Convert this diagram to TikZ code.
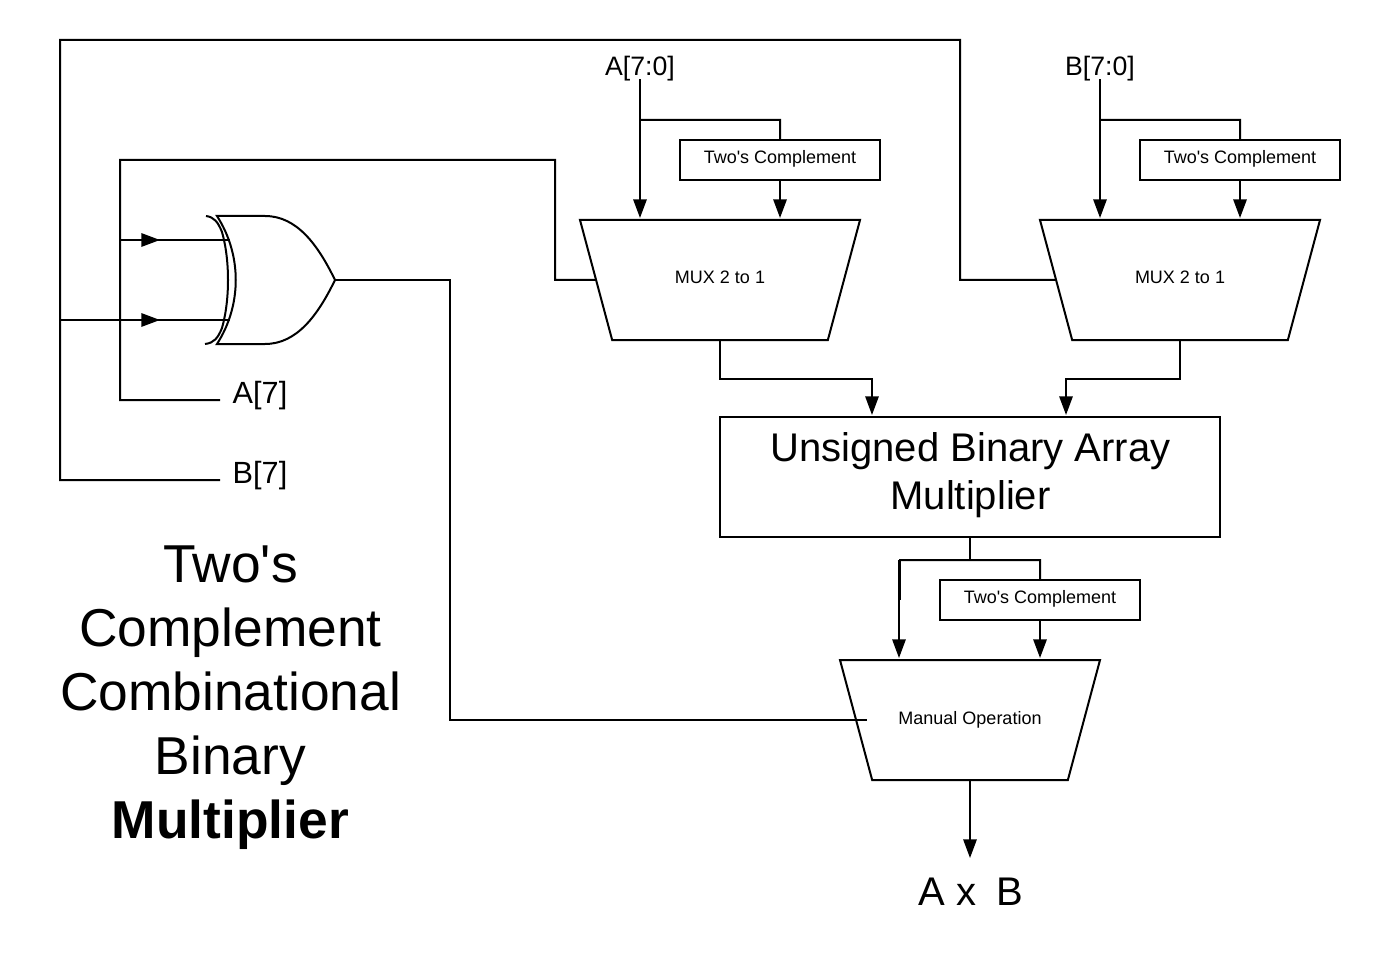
\documentclass[tikz,border=0pt]{standalone}
\usepackage{fontspec}
\setmainfont{Liberation Sans}
\usetikzlibrary{shapes.geometric}
\usetikzlibrary{arrows.meta}
\usetikzlibrary{positioning}
\newcommand{\twostext}{Two\textquotesingle s Complement}
\begin{document}
\begin{tikzpicture}[x=0.75pt,y=-0.75pt,line width=1.5pt]
\tikzstyle{mux node}=[trapezium,draw,trapezium stretches body=true,shape border rotate=180,trapezium left angle=75,trapezium right angle=75,minimum width=210pt,minimum height=90pt,inner xsep=0,outer sep=0,text height=9.5pt,text depth=4.5pt,inner ysep=38pt,font=\fontsize{13.5}{16}\selectfont]
\tikzstyle{twos node}=[rectangle,draw,minimum width=150pt,minimum height=30pt,inner sep=0,outer sep=0,text depth=4.3pt,font=\fontsize{13.5}{16}\selectfont]
\tikzstyle{pin node}=[inner sep=0,font=\fontsize{20}{24}\selectfont]
\tikzstyle{msb node}=[inner sep=0,font=\fontsize{23}{27}\selectfont]
\tikzset{
  arrow line/.style = {-{Triangle[length=14pt,width=10pt]},shorten >=1.5pt},
  gate line/.style = {line join=miter}
}
\useasboundingbox (0,0) rectangle (1380,980);

    \node[mux node]      (muxa)  at (720,280)   {MUX 2 to 1};
    \node[mux node]      (muxb)  [right of=muxa,node distance=345pt]  {MUX 2 to 1};
    \node[twos node]     (twoa)  [above=30pt of muxa,xshift=45pt]  {\twostext};
    \node[twos node]     (twob)  [above=30pt of muxb,xshift=45pt]  {\twostext};
    \node[pin node]      (ina)   at (640,69)    {A[7:0]};
    \node[pin node]      (inb)   at (1100,69)   {B[7:0]};
    \node[rectangle,draw,minimum width=375pt,minimum height=90pt,inner sep=0,outer sep=0,
      label={[align=center,xshift=0.4pt,yshift=1.5pt,font=\fontsize{30}{36}\selectfont]center:Unsigned Binary Array\\Multiplier}] (mult) at (970,477) {};
    \node[mux node,minimum width=195pt,text height=9.7pt,text depth=2.8pt,inner ysep=38.75pt] (muxc) [below of=mult,node distance=182.25pt] {Manual Operation};
    \node[twos node]     (twoc)  [above=30pt of muxc,xshift=52.5pt]  {\twostext};
    \node[msb node]      (msba)  at (260,396)   {A[7]};
    \node[msb node]      (msbb)  at (260,476)   {B[7]};
    \node[inner sep=0,font=\fontsize{30}{36}\selectfont] (prod) at (971,892) {A x\hspace*{6.5pt} B};
    \node[inner sep=0,align=center,font=\fontsize{40}{48}\selectfont] (title) at (230.5,698) {Two\textquotesingle s\\Complement\\Combinational\\Binary\\\textbf{Multiplier}};
    %%%%%%%%%%%%%%%%%%%%%%%%%%%%%%%%%%%%%%%%%%
    \coordinate (xora) at (230,240);
    \coordinate (xorb) at (230,320);
    \coordinate (xorout) at (335,280);
    \coordinate (taa) at (120,240);
    \coordinate (tab) at (60,320);
    \coordinate (ma) at (160,240);
    \coordinate (mb) at (160,320);
    \coordinate (ea) at (220,400);
    \coordinate (eb) at (220,480);
    \coordinate (sela) at (555,280);
    \coordinate (selb) at (960,280);
    \coordinate (selc) at (867,720);
    \coordinate (spla) at (640,120);
    \coordinate (splb) at (1100,120);
    \coordinate (splc) at (970,560);
    \coordinate (ltc) at (899,560);
    \coordinate (outc) at (970,860);

    % xor gate
    \draw[gate line] (217,216) -- (265,216) .. controls (297,216) and (318,245) .. (xorout) .. controls (318,315) and (297,344) .. (265,344) -- (217,344) .. controls (242,305) and (242,255) .. cycle;
    \draw[gate line] (206,216) .. controls (214,217) and (218,222) .. (222,232) .. controls (230,260) and (230,300) .. (222,328) .. controls (218,338) and (214,343) .. (205,344);

    \draw (ea) -- (120,400) -- (120,160) -- (555,160) -- (sela) -- (muxa.west);
    \draw (eb) -- (60,480) -- (60,40) -- (960,40) -- (selb) -- (muxb.west);
    \draw (xorout) -- (450,280) -- (450,720) -- (selc);
    \draw (spla) -- (780,120) -- (twoa.north);
    \draw (splb) -- (1240,120) -- (twob.north);
    \draw (mult.south) -- (splc);
    \draw (ltc) -- (1040,560) -- (twoc.north);
    \draw (900,560) -- (900,600);
    \draw[line width=2pt] (tab) -- (140,320);

    \path
         (taa)   edge (xora)
         (tab)   edge (xorb);
    \path[arrow line,shorten >=0pt]
         (taa)   edge (ma)
         (tab)   edge (mb);
    \path[arrow line]
         (ina)   edge[shorten <=-2.25pt] (ina |- muxa.north)
         (inb)   edge[shorten <=-2.25pt] (inb |- muxb.north)
         (twoa)  edge (twoa |- muxa.north)
         (twob)  edge (twob |- muxb.north)
         (ltc)   edge (ltc |- muxc.north)
         (twoc)  edge (twoc |- muxc.north)
         (muxc)  edge (outc);
    \draw[arrow line] (muxa.south) |- (872,379) -- (872,417);
    \draw[arrow line] (muxb.south) |- (1066,379) -- (1066,417);
\end{tikzpicture}
\end{document}
